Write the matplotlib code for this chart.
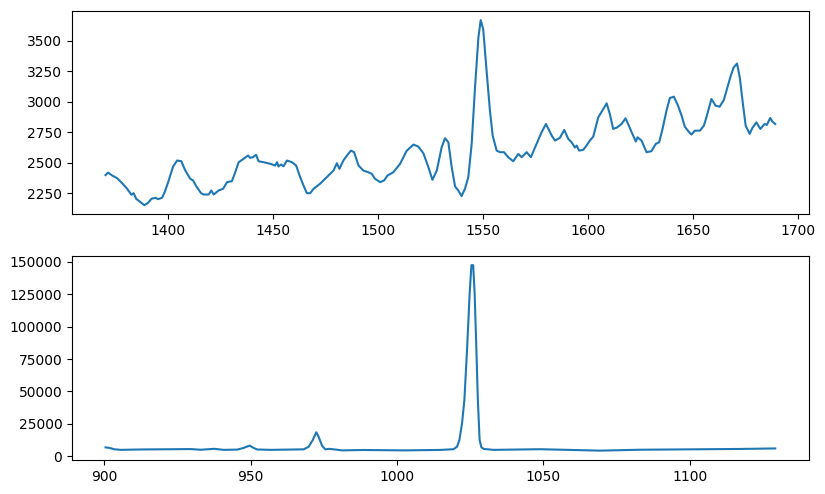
#!/usr/bin/env python
"""Two stacked spectrum panels: a zoomed band (top) and the full range (bottom)."""
import matplotlib

matplotlib.use("Agg")
import matplotlib.pyplot as plt

# top panel: wavenumber / intensity
top_x = [1370.3, 1371.5, 1373.5, 1375.8, 1378.2, 1380.6, 1382.6, 1383.7, 1384.9, 1386.9,
         1388.8, 1390.4, 1392.2, 1394.1, 1395.3, 1397.2, 1398.5, 1400.4, 1402.5, 1404.4,
         1406.4, 1408.3, 1410.7, 1412.0, 1413.5, 1415.8, 1417.0, 1419.4, 1420.7, 1421.8,
         1424.2, 1426.3, 1428.2, 1430.5, 1432.1, 1433.7, 1436.1, 1438.2, 1439.2, 1440.5,
         1442.0, 1443.2, 1445.6, 1448.8, 1451.1, 1452.0, 1452.7, 1453.9, 1455.1, 1456.7,
         1459.1, 1461.1, 1463.0, 1464.6, 1466.2, 1467.8, 1469.4, 1472.5, 1475.7, 1478.9,
         1480.5, 1481.7, 1483.6, 1485.3, 1487.2, 1488.7, 1490.8, 1493.1, 1495.5, 1497.1,
         1498.7, 1501.1, 1503.0, 1504.6, 1507.4, 1510.6, 1513.8, 1517.0, 1519.3, 1521.7,
         1524.1, 1526.0, 1528.1, 1530.4, 1532.0, 1533.6, 1535.2, 1536.8, 1538.3, 1539.9,
         1541.5, 1543.1, 1544.7, 1546.3, 1547.9, 1549.0, 1550.2, 1551.8, 1553.4, 1554.7,
         1556.6, 1558.2, 1560.1, 1562.1, 1564.5, 1566.9, 1568.5, 1570.9, 1572.9, 1575.6,
         1578.0, 1580.1, 1582.8, 1584.4, 1586.7, 1588.8, 1590.7, 1592.3, 1593.9, 1594.7,
         1595.9, 1597.8, 1599.4, 1601.0, 1602.6, 1605.0, 1607.1, 1609.0, 1610.5, 1612.1,
         1614.0, 1616.1, 1618.0, 1619.2, 1620.9, 1622.9, 1623.7, 1625.6, 1628.0, 1630.3,
         1632.4, 1634.0, 1635.6, 1637.5, 1639.1, 1641.0, 1643.0, 1644.7, 1646.2, 1648.3,
         1649.4, 1651.0, 1653.4, 1655.3, 1656.5, 1658.9, 1660.9, 1662.8, 1664.8, 1666.3,
         1668.1, 1669.5, 1671.1, 1672.4, 1673.9, 1675.2, 1677.1, 1678.4, 1680.3, 1682.2,
         1684.2, 1685.3, 1686.9, 1687.9, 1689.3]
top_y = [2400, 2420, 2396, 2375, 2334, 2288, 2239, 2252, 2206, 2179,
         2154, 2170, 2206, 2214, 2203, 2214, 2260, 2356, 2470, 2519,
         2513, 2437, 2369, 2356, 2309, 2252, 2241, 2241, 2274, 2241,
         2274, 2288, 2342, 2350, 2423, 2505, 2533, 2560, 2541, 2546,
         2565, 2513, 2505, 2492, 2478, 2505, 2470, 2486, 2472, 2519,
         2505, 2478, 2383, 2315, 2252, 2252, 2288, 2329, 2383, 2437,
         2497, 2451, 2519, 2560, 2600, 2587, 2478, 2437, 2423, 2410,
         2369, 2342, 2356, 2396, 2423, 2492, 2600, 2649, 2633, 2578,
         2464, 2361, 2437, 2627, 2701, 2668, 2464, 2307, 2274, 2228,
         2288, 2383, 2655, 3117, 3524, 3667, 3593, 3253, 2927, 2723,
         2600, 2587, 2587, 2546, 2513, 2573, 2546, 2587, 2546, 2655,
         2750, 2818, 2723, 2682, 2704, 2769, 2696, 2668, 2625, 2641,
         2600, 2606, 2641, 2682, 2714, 2872, 2932, 2986, 2900, 2777,
         2790, 2818, 2864, 2818, 2750, 2674, 2709, 2682, 2587, 2595,
         2655, 2668, 2777, 2927, 3030, 3041, 2967, 2886, 2796, 2750,
         2731, 2763, 2763, 2804, 2872, 3022, 2967, 2959, 3014, 3104,
         3212, 3280, 3312, 3198, 2981, 2804, 2737, 2785, 2831, 2777,
         2818, 2810, 2867, 2837, 2818]

# bottom panel: full range
bot_x = [900.4, 901.6, 903.3, 905.6, 912.4, 929.5, 932.9, 937.6, 940.8, 945.4,
         947.6, 949.6, 950.9, 952.2, 956.8, 968.1, 969.8, 971.2, 972.4, 973.2,
         974.4, 975.5, 976.7, 978.4, 981.2, 988.6, 1002.3, 1014.8, 1019.3, 1020.5,
         1021.3, 1022.2, 1023.0, 1023.9, 1024.8, 1025.4, 1026.0, 1026.5, 1027.1, 1027.6,
         1028.2, 1028.8, 1029.6, 1033.0, 1048.9, 1069.4, 1083.0, 1100.0, 1117.1, 1129.2]
bot_y = [6800, 6500, 5400, 4900, 5200, 5500, 5000, 5700, 4900, 5100,
         6400, 8200, 6500, 5200, 4900, 5300, 7300, 12500, 18500, 15000,
         8000, 5300, 5700, 5300, 4500, 4800, 4500, 4850, 5400, 7400,
         12600, 25400, 43400, 82000, 125700, 147500, 147500, 125700, 82000, 43400,
         12600, 6900, 5600, 4900, 5400, 4300, 5000, 5300, 5600, 6000]

fig = plt.figure(figsize=(8.25, 4.94), dpi=100)
ax_top = fig.add_axes([0.0873, 0.566, 0.893, 0.412])
ax_bot = fig.add_axes([0.0873, 0.069, 0.893, 0.413])

ax_top.plot(top_x, top_y)
ax_bot.plot(bot_x, bot_y)

fig.savefig("out.png", dpi=100)
